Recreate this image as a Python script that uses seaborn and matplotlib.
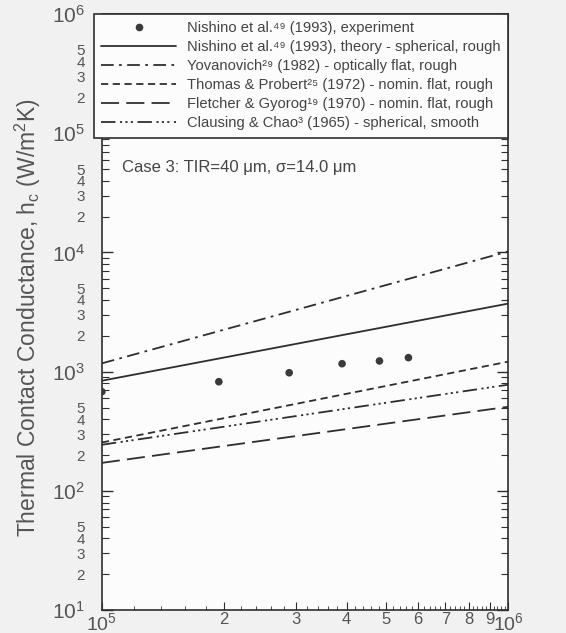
import matplotlib
matplotlib.use("Agg")
import matplotlib.pyplot as plt
import matplotlib.ticker as mticker
from matplotlib.lines import Line2D
import seaborn as sns
import numpy as np

# ---- data ----
exp_x = [1.0e5, 1.94e5, 2.89e5, 3.9e5, 4.82e5, 5.68e5]
exp_y = [680, 824, 980, 1167, 1230, 1312]

line_x = [1e5, 1e6]
nishino_theory = [840, 3725]
yovanovich = [1175, 10200]
thomas_probert = [255, 1214]
fletcher_gyorog = [172, 508]
clausing_chao = [244, 778]

labels = [
    "Nishino et al.⁴⁹ (1993), experiment",
    "Nishino et al.⁴⁹ (1993), theory - spherical, rough",
    "Yovanovich²⁹ (1982) - optically flat, rough",
    "Thomas & Probert²⁵ (1972) - nomin. flat, rough",
    "Fletcher & Gyorog¹⁹ (1970) - nomin. flat, rough",
    "Clausing & Chao³ (1965) - spherical, smooth",
]
case_text = "Case 3: TIR=40 μm, σ=14.0 μm"
ylabel = "Thermal Contact Conductance, h$_{\\rm c}$ (W/m$^{2}$K)"
x_minor_labels = ["2", "3", "4", "5", "6", "7", "8", "9"]
y_minor_labels = ["2", "3", "4", "5"]

# ---- style ----
sns.set_style("ticks")
plt.rcParams["font.family"] = ["Liberation Sans", "DejaVu Sans"]
plt.rcParams["mathtext.fontset"] = "custom"
plt.rcParams["mathtext.rm"] = "Liberation Sans"
plt.rcParams["mathtext.it"] = "Liberation Sans:italic"
plt.rcParams["mathtext.bf"] = "Liberation Sans:bold"

ink = "#2e2e2e"
txt = "#555555"

fig = plt.figure(figsize=(5.66, 6.33), dpi=100, facecolor="#f1f1f1")
ax = fig.add_axes([0.180, 0.036, 0.718, 0.942])
ax.set_facecolor("#fcfcfc")

styles = [
    (nishino_theory, "-"),
    (yovanovich, (0, (7, 3, 1.5, 3))),
    (thomas_probert, (0, (4, 2.5))),
    (fletcher_gyorog, (0, (10, 4))),
    (clausing_chao, (0, (8, 2.5, 1.2, 1.8, 1.2, 1.8, 1.2, 2.5))),
]
handles = []
sns.scatterplot(x=exp_x, y=exp_y, ax=ax, color="#3a3a3a", s=30,
                edgecolor="none", zorder=3)
handles.append(Line2D([], [], marker="o", color="#3a3a3a", linestyle="none",
                      markersize=4.5))
for vals, ls in styles:
    sns.lineplot(x=line_x, y=vals, ax=ax, color=ink, linewidth=1.3,
                 linestyle=ls)
    handles.append(Line2D([], [], color=ink, linewidth=1.3, linestyle=ls))

ax.set_xscale("log")
ax.set_yscale("log")
ax.set_xlim(1e5, 1e6)
ax.set_ylim(1e1, 1e6)

# x ticks
xmaj = [1e5] + [k * 1e5 for k in range(2, 10)] + [1e6]
ax.xaxis.set_major_locator(mticker.FixedLocator(xmaj))
ax.xaxis.set_major_formatter(mticker.FixedFormatter(
    ["$10^{5}$"] + x_minor_labels + ["$10^{6}$"]))
xmin = [v * 1e5 for v in np.arange(1.2, 10.0, 0.2)]
ax.xaxis.set_minor_locator(mticker.FixedLocator(xmin))
ax.xaxis.set_minor_formatter(mticker.NullFormatter())

# y ticks
ax.yaxis.set_major_locator(mticker.LogLocator(base=10, numticks=10))
ax.yaxis.set_major_formatter(mticker.FuncFormatter(
    lambda v, p: "$10^{%d}$" % int(round(np.log10(v)))))
ax.yaxis.set_minor_locator(mticker.LogLocator(base=10, subs=np.arange(2, 10), numticks=20))


def _minor_fmt(v, p):
    m = int(round(v / 10 ** np.floor(np.log10(v) + 1e-9)))
    return str(m) if str(m) in y_minor_labels else ""


ax.yaxis.set_minor_formatter(mticker.FuncFormatter(_minor_fmt))

ax.tick_params(axis="both", which="both", direction="in", top=True, right=True,
               color=ink, labelcolor=txt)
ax.tick_params(axis="y", which="major", length=8, width=1, labelsize=15, pad=12)
ax.tick_params(axis="y", which="minor", length=5, width=0.8, labelsize=11, pad=12)
ax.tick_params(axis="x", which="major", length=6, width=0.8, labelsize=12, pad=1.5)
ax.tick_params(axis="x", which="minor", length=3, width=0.6)
for lab in ax.get_xticklabels():
    if "10" in lab.get_text():
        lab.set_fontsize(14)

for sp in ax.spines.values():
    sp.set_color(ink)
    sp.set_linewidth(1.2)

ax.set_ylabel(ylabel, fontsize=16.5, color=txt)
ax.yaxis.set_label_coords(-0.145, 0.49)

ax.text(0.05, 0.742, case_text, transform=ax.transAxes, fontsize=12,
        color="#444444", va="center", ha="left")

leg = ax.legend(handles, labels, loc="upper left",
                bbox_to_anchor=(-0.02, 1.0, 1.02, 0.0), mode="expand",
                fontsize=10.6, frameon=True, fancybox=False, handlelength=5.1,
                handletextpad=0.75, labelspacing=0.34, borderpad=0.5,
                borderaxespad=0.0)
frame = leg.get_frame()
frame.set_edgecolor(ink)
frame.set_linewidth(1.2)
frame.set_facecolor("#fcfcfc")
frame.set_alpha(1)
for t in leg.get_texts():
    t.set_color("#444444")
leg.set_zorder(10)

fig.savefig("out.png", dpi=100, facecolor=fig.get_facecolor())
